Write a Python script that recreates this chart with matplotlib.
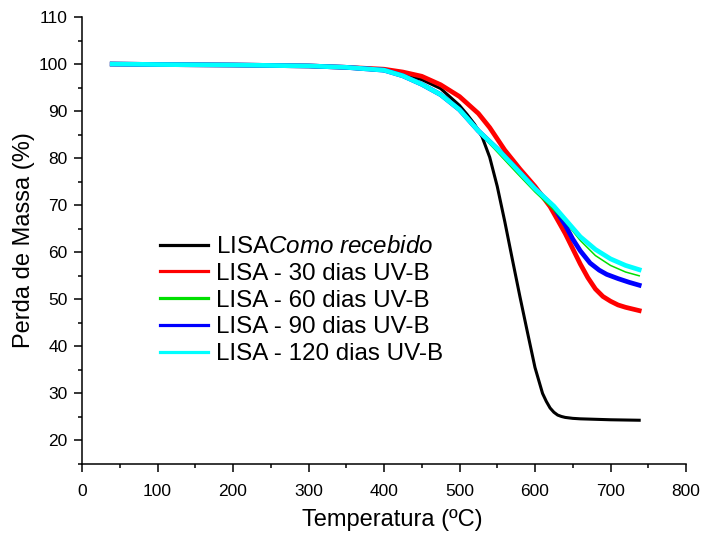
import matplotlib
matplotlib.use("Agg")
import matplotlib.pyplot as plt
from matplotlib.ticker import MultipleLocator

plt.rcParams['font.family'] = ['Liberation Sans', 'DejaVu Sans']
plt.rcParams['mathtext.fontset'] = 'custom'
plt.rcParams['mathtext.rm'] = 'Liberation Sans'
plt.rcParams['mathtext.it'] = 'Liberation Sans:italic'

# Data (temperature in ºC, mass in %)
t_black = [40, 100, 200, 300, 350, 400, 425, 450, 475, 500, 510, 520, 530, 540, 550, 560, 570, 580, 590, 600, 610, 615, 620, 625, 630, 635, 640, 650, 660, 700, 738]
m_black = [100, 99.9, 99.8, 99.5, 99.2, 98.6, 97.9, 96.7, 94.8, 91.2, 89.3, 87.2, 84.5, 80.2, 74.0, 66.5, 58.5, 50.6, 43.0, 35.5, 30.0, 28.3, 26.9, 26.0, 25.4, 25.1, 24.9, 24.7, 24.6, 24.4, 24.3]

t_red = [40, 100, 200, 300, 350, 400, 425, 450, 475, 500, 525, 540, 560, 580, 600, 620, 640, 660, 670, 680, 690, 700, 710, 720, 738]
m_red = [100, 99.9, 99.8, 99.6, 99.3, 98.9, 98.3, 97.4, 95.6, 93.1, 89.5, 86.5, 81.7, 77.7, 74.0, 69.7, 64.0, 57.5, 54.6, 52.2, 50.6, 49.6, 48.8, 48.3, 47.6]

t_green = [40, 100, 200, 300, 350, 400, 425, 450, 475, 500, 525, 550, 575, 600, 620, 640, 660, 680, 700, 720, 738]
m_green = [100, 99.9, 99.8, 99.6, 99.3, 98.7, 97.5, 95.7, 93.4, 90.3, 85.6, 81.3, 77.0, 72.8, 69.8, 66.5, 62.5, 59.3, 57.2, 55.8, 55.0]

t_blue = [40, 100, 200, 300, 350, 400, 425, 450, 475, 500, 525, 550, 575, 600, 625, 640, 650, 660, 673, 685, 695, 710, 725, 738]
m_blue = [100, 99.9, 99.8, 99.6, 99.3, 98.7, 97.5, 95.7, 93.5, 90.3, 85.8, 82.0, 77.8, 73.5, 69.6, 65.8, 62.8, 60.3, 57.7, 56.2, 55.3, 54.4, 53.6, 53.0]

t_cyan = [40, 100, 200, 300, 350, 400, 425, 450, 475, 500, 525, 550, 575, 600, 625, 640, 660, 680, 700, 720, 738]
m_cyan = [100, 99.9, 99.8, 99.6, 99.3, 98.7, 97.5, 95.7, 93.5, 90.3, 85.8, 82.0, 77.8, 73.5, 69.8, 67.0, 63.3, 60.6, 58.6, 57.2, 56.3]

labels = [r"LISA$\it{Como\ recebido}$", "LISA - 30 dias UV-B", "LISA - 60 dias UV-B",
          "LISA - 90 dias UV-B", "LISA - 120 dias UV-B"]

fig = plt.figure(figsize=(7.03, 5.41), dpi=100)
ax = fig.add_axes([82/703, 1-464/541, 604/703, 447/541])

ax.plot(t_black, m_black, color='black', lw=2.2, label=labels[0], zorder=2)
ax.plot(t_red, m_red, color='#ff0000', lw=3.4, label=labels[1], zorder=3)
ax.plot(t_green, m_green, color='#00e000', lw=1.1, label=labels[2], zorder=5)
ax.plot(t_blue, m_blue, color='#0000ff', lw=3.4, label=labels[3], zorder=4)
ax.plot(t_cyan, m_cyan, color='#00ffff', lw=3.4, label=labels[4], zorder=6)

ax.set_xlim(0, 800)
ax.set_ylim(15, 110)
ax.xaxis.set_major_locator(MultipleLocator(100))
ax.xaxis.set_minor_locator(MultipleLocator(50))
ax.yaxis.set_major_locator(MultipleLocator(10))
ax.yaxis.set_minor_locator(MultipleLocator(5))
ax.set_yticks(range(20, 111, 10))

for s in ['top', 'right']:
    ax.spines[s].set_visible(False)
for s in ['left', 'bottom']:
    ax.spines[s].set_linewidth(1.1)
ax.tick_params(which='major', direction='out', length=5.8, width=1.1, labelsize=12.5)
ax.tick_params(which='minor', direction='out', length=3, width=1.1)
ax.tick_params(axis='x', which='major', pad=8.5)
ax.tick_params(axis='y', which='major', pad=4.5)

ax.set_xlabel("Temperatura (ºC)", fontsize=17, labelpad=7.5)
ax.xaxis.label.set_x((392-82)/604)
ax.set_ylabel("Perda de Massa (%)", fontsize=17, labelpad=3)

leg = ax.legend(loc='upper left', bbox_to_anchor=((160-82)/604, (464-236)/447),
                frameon=False, fontsize=17.4, handlelength=2.0, handletextpad=0.3,
                labelspacing=0.2, borderpad=0, borderaxespad=0)
for line in leg.get_lines():
    line.set_linewidth(2.3)

fig.savefig("out.png", dpi=100)
